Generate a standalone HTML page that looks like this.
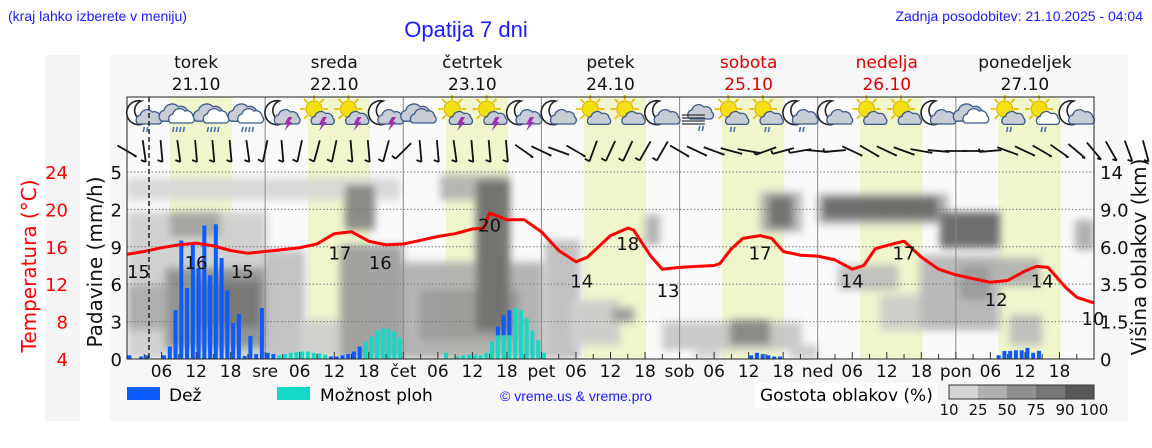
<!DOCTYPE html>
<html><head><meta charset="utf-8">
<style>
body{margin:0;background:#fff;width:1152px;height:443px;overflow:hidden;font-family:"Liberation Sans","DejaVu Sans",sans-serif}
svg text{font-family:"DejaVu Sans","Liberation Sans",sans-serif}
</style></head>
<body>
<svg id="chart" width="1152" height="443" viewBox="0 0 1152 443" xmlns="http://www.w3.org/2000/svg">
<defs>
<filter id="blur" filterUnits="userSpaceOnUse" x="100" y="150" width="1020" height="230"><feGaussianBlur stdDeviation="4"/></filter>
<clipPath id="plotclip"><rect x="127" y="165" width="967" height="194"/></clipPath>
</defs>
<rect x="45" y="55" width="35" height="366" fill="#f5f5f5"/>
<rect x="110" y="55" width="1018" height="366" fill="#f7f7f7"/>
<rect x="127" y="97" width="967" height="262" fill="#fafafa"/>
<text x="8" y="21" font-size="14" fill="#1a1aff" style="font-family:'Liberation Sans',sans-serif">(kraj lahko izberete v meniju)</text>
<text x="466" y="37" font-size="22" fill="#1a1aff" text-anchor="middle" style="font-family:'Liberation Sans',sans-serif">Opatija 7 dni</text>
<text x="1143" y="21" font-size="14" fill="#1a1aff" text-anchor="end" style="font-family:'Liberation Sans',sans-serif">Zadnja posodobitev: 21.10.2025 - 04:04</text>
<g id="daylight"></g>
<g clip-path="url(#plotclip)">
<g id="clouds" filter="url(#blur)" opacity="0.9">
<rect x="127" y="178" width="273" height="22" fill="#d6d6d6"/>
<rect x="127" y="212" width="140" height="147" fill="#cdcdcd"/>
<rect x="170" y="212" width="50" height="25" fill="#9e9e9e"/>
<rect x="165" y="268" width="100" height="80" fill="#8a8a8a"/>
<rect x="195" y="282" width="65" height="45" fill="#6a6a6a"/>
<rect x="127" y="285" width="40" height="45" fill="#a6a6a6"/>
<rect x="265" y="250" width="40" height="109" fill="#bebebe"/>
<rect x="300" y="320" width="40" height="39" fill="#cecece"/>
<rect x="340" y="245" width="63" height="114" fill="#9a9a9a"/>
<rect x="345" y="185" width="30" height="45" fill="#808080"/>
<rect x="403" y="262" width="140" height="97" fill="#adadad"/>
<rect x="420" y="290" width="100" height="50" fill="#939393"/>
<rect x="440" y="175" width="70" height="25" fill="#b0b0b0"/>
<rect x="476" y="180" width="34" height="150" fill="#666"/>
<rect x="545" y="240" width="35" height="119" fill="#bbbbbb"/>
<rect x="570" y="300" width="50" height="45" fill="#cacaca"/>
<rect x="612" y="308" width="22" height="14" fill="#959595"/>
<rect x="645" y="215" width="15" height="30" fill="#ababab"/>
<rect x="662" y="322" width="140" height="28" fill="#c4c4c4"/>
<rect x="730" y="320" width="40" height="25" fill="#808080"/>
<rect x="760" y="192" width="42" height="40" fill="#b0b0b0"/>
<rect x="768" y="196" width="25" height="32" fill="#666"/>
<rect x="695" y="347" width="25" height="12" fill="#cfcfcf"/>
<rect x="790" y="345" width="28" height="14" fill="#c8c8c8"/>
<rect x="818" y="194" width="130" height="30" fill="#a8a8a8"/>
<rect x="823" y="197" width="115" height="22" fill="#5e5e5e"/>
<rect x="838" y="265" width="60" height="25" fill="#bcbcbc"/>
<rect x="880" y="295" width="80" height="35" fill="#cbcbcb"/>
<rect x="940" y="212" width="60" height="36" fill="#5e5e5e"/>
<rect x="920" y="255" width="80" height="75" fill="#b2b2b2"/>
<rect x="960" y="265" width="30" height="35" fill="#939393"/>
<rect x="990" y="258" width="50" height="28" fill="#aeaeae"/>
<rect x="1010" y="315" width="32" height="30" fill="#bababa"/>
<rect x="1075" y="220" width="19" height="30" fill="#a8a8a8"/>
</g>
</g>
<g id="grid"></g>
<g id="bars"></g>
<g id="templine"></g>
<g id="icons"></g>
<g id="wind"></g>
<g id="axes"></g>
<rect x="127" y="97" width="967" height="262" fill="none" stroke="#222" stroke-width="1"/>
<line x1="149" y1="97" x2="149" y2="359" stroke="#222" stroke-width="1.5" stroke-dasharray="5,3"/>
<g>
<rect x="127" y="387" width="33" height="13" fill="#0a5cff"/>
<text x="169" y="401" font-size="17">Dež</text>
<rect x="277" y="387" width="33" height="13" fill="#14d9c8"/>
<text x="320" y="401" font-size="17">Možnost ploh</text>
<text x="500" y="401" font-size="14" fill="#1a1aff" style="font-family:'Liberation Sans',sans-serif">© vreme.us &amp; vreme.pro</text>
<rect x="755" y="383" width="182" height="25" fill="#fff"/>
<text x="760" y="401" font-size="17">Gostota oblakov (%)</text>
<g id="colorbar"></g>
</g>
</svg>
<script>
// ---- data ----
const dayNames=["torek","sreda","četrtek","petek","sobota","nedelja","ponedeljek"];
const dayDates=["21.10","22.10","23.10","24.10","25.10","26.10","27.10"];
const dayAbbr=["","sre","čet","pet","sob","ned","pon"];
const tempHours=[0,3,6,9,12,15,18,21,24,27,30,33,36,39,42,45,48,51,54,57,60,62,63,66,69,72,75,78,80,84,87,88,91,93,96,99,102,103,105,107,110,112,114,117,120,123,126,128,130,133,135,138,141,144,147,150,153,156,158,160,163,165,168];
const tempValues=[15.2,15.5,15.9,16.2,16.4,16.1,15.6,15.3,15.5,15.7,15.9,16.3,17.4,17.6,16.6,16.2,16.3,16.7,17.1,17.4,17.9,18.0,19.6,18.9,18.9,17.6,15.6,14.4,14.9,17.2,18.0,17.8,15.0,13.6,13.8,13.9,14.0,14.2,15.8,16.9,17.2,16.9,15.5,15.1,15.0,14.6,13.6,14.0,15.8,16.3,16.6,14.9,13.6,13.0,12.6,12.2,12.4,13.4,13.9,13.8,11.7,10.6,10.0];
const tempLabelHours=[2,12,20,37,44,63,79,87,94,110,126,135,151,159,168];
const tempLabelValues=[15,16,15,17,16,20,14,18,13,17,14,17,12,14,10];
const rainHours=[0,2,3,6,7,8,9,10,11,12,13,14,15,16,17,18,19,20,21,22,23,24,25,35,36,37,38,39,40,64,65,66,108,109,110,111,112,113,151,152,153,154,155,156,157,158];
const rainValues=[0.3,0.2,0.3,0.3,1.0,3.9,9.5,5.7,9.2,7.3,10.7,6.7,10.8,8.1,5.5,2.9,3.6,0.25,1.85,0.4,4.1,0.5,0.4,0.2,0.2,0.3,0.4,0.6,1.0,0.7,1.6,2.0,0.3,0.5,0.4,0.3,0.2,0.2,0.3,0.65,0.65,0.7,0.7,0.9,0.5,0.65];
const showerHours=[26,27,28,29,30,31,32,33,34,41,42,43,44,45,46,47,55,57,58,59,60,61,62,63,64,65,66,67,68,69,70,71,72];
const showerValues=[0.3,0.4,0.5,0.55,0.6,0.6,0.5,0.45,0.35,1.4,1.8,2.3,2.5,2.4,2.2,1.7,0.5,0.2,0.3,0.35,0.35,0.3,0.5,1.4,1.9,1.9,1.9,4.1,3.9,3.3,2.3,1.5,0.5];
const precipTicks=[0,3,6,9,12,15];
const precipTickLabels=["0","3","6","9","2","5"];
const tempTicks=[4,8,12,16,20,24];
const cloudTickLabels=["14","9.0","6.0","3.5","1.5","0"];
const iconTypes=["moonrain","rain","rain","rain","moonstorm","sunstorm","sunstorm","moonstorm","cloud","sunstorm","sunstorm","moonstorm","mooncloud","suncloud","suncloud","mooncloud","fog","sunrain","sunrain","moonrain","mooncloud","suncloud","suncloud","mooncloud","cloudw","sunrain","sunrain2","mooncloud"];
const windAngles=[60,8,5,8,5,5,5,8,-12,5,-12,-15,-12,5,5,-15,-45,5,5,8,5,5,5,55,65,70,60,-20,-25,-25,-30,-30,60,65,70,75,80,-70,-75,-80,85,-85,65,60,65,70,80,85,90,90,-85,70,65,60,55,50,40,30,20,15];
const bgHexes=["#d3d3d3","#b0b0b0","#909090","#757575","#585858"];
const cbLabels=["10","25","50","75","90","100"];
// ---- scales ----
const X0=127,PW=967,YB=359;
function xH(h){return X0+h*PW/168;}
function yT(t){return YB-(t-4)*9.35;}
function yP(v){return YB-v*12.47;}
const NS="http://www.w3.org/2000/svg";
function mk(tag,attrs,parent){const e=document.createElementNS(NS,tag);for(const k in attrs)e.setAttribute(k,attrs[k]);parent.appendChild(e);return e;}
// daylight
const dl=document.getElementById('daylight');
for(let d=0;d<7;d++){
  const r=mk('rect',{x:xH(24*d+7.4),y:97,width:xH(24*d+18.2)-xH(24*d+7.4),height:262,fill:'#f0f5cc'},dl);
  
  
}
// grid
const gr=document.getElementById('grid');
for(let i=1;i<precipTicks.length;i++){
  const l=mk('line',{x1:X0,x2:X0+PW,y1:yP(precipTicks[i]),y2:yP(precipTicks[i]),stroke:'#777','stroke-width':1,'stroke-dasharray':'1.5,2'},gr);
  
  
}
for(let d=1;d<7;d++){
  const l=mk('line',{x1:xH(24*d),x2:xH(24*d),y1:97,y2:359,stroke:'#888','stroke-width':1},gr);
  
  
}
// bars
const bg=document.getElementById('bars');
const showerMap={};
showerHours.forEach((h,i)=>{showerMap[h]=showerValues[i];
  const r=mk('rect',{x:xH(h)+0.5,y:yP(showerValues[i]),width:4,height:YB-yP(showerValues[i]),fill:'#14d9c8'},bg);
  
  
});
rainHours.forEach((h,i)=>{const base=showerMap[h]||0;
  const r=mk('rect',{x:xH(h)+0.5,y:yP(base+rainValues[i]),width:4,height:yP(base)-yP(base+rainValues[i]),fill:'#0a5cff'},bg);
  
  
});
// temperature
const tl=document.getElementById('templine');
let pts=tempHours.map((h,i)=>xH(h).toFixed(1)+','+yT(tempValues[i]).toFixed(1)).join(' ');
const pl=mk('polyline',{points:pts,fill:'none',stroke:'#ff0000','stroke-width':3,'stroke-linejoin':'round'},tl);


tempLabelHours.forEach((h,i)=>{
  const tx=mk('text',{x:xH(h)+(h===168?-1:0),y:yT(tempLabelValues[i])+22,'font-size':18,'text-anchor':'middle',fill:'#111'},tl);
  tx.textContent=tempLabelValues[i];
  
  
});
// icons
const ic=document.getElementById('icons');
function cloud(g,cx,cy,s,fill){
  mk('path',{d:`M${cx-11*s},${cy+6*s} a${5*s} ${5*s} 0 0 1 ${2*s},${-9*s} a${7*s} ${7*s} 0 0 1 ${12*s},${-3*s} a${6*s} ${6*s} 0 0 1 ${8*s},${5*s} a${4*s} ${4*s} 0 0 1 ${-1*s},${7*s} z`,fill:fill,stroke:'#3a5a8a','stroke-width':1.3},g);
}
function sun(g,cx,cy){
  for(let a=0;a<360;a+=45){const r=a*Math.PI/180;mk('line',{x1:cx+Math.cos(r)*9,y1:cy+Math.sin(r)*9,x2:cx+Math.cos(r)*14,y2:cy+Math.sin(r)*14,stroke:'#e8c000','stroke-width':1.8},g);}
  mk('circle',{cx:cx,cy:cy,r:8,fill:'#f4e010',stroke:'#d8b000'},g);
}
function moon(g,cx,cy){mk('path',{d:`M${cx+3},${cy-12} a12 12 0 1 0 7,19 a10 10 0 0 1 -7,-19 z`,fill:'#fff',stroke:'#222','stroke-width':1.6},g);}
function bolt(g,cx,cy){mk('path',{d:`M${cx+2},${cy} l-4,7 h3 l-3,7 l8,-9 h-3 l3,-5 z`,fill:'#a030b0'},g);}
function drops(g,cx,cy,n){for(let i=0;i<n;i++)mk('line',{x1:cx-5+i*3.5,y1:cy,x2:cx-6+i*3.5,y2:cy+5,stroke:'#4a70b0','stroke-width':1.6},g);}
iconTypes.forEach((t,i)=>{
  const cx=xH(i*6+3),cy=113;
  const g=mk('g',{},ic);
  
  
  if(t.startsWith('moon')){moon(g,cx-6,cy);cloud(g,cx+5,cy+5,1.0,'#c8ccd4');}
  if(t.startsWith('sun')){sun(g,cx-3,cy-4);cloud(g,cx+6,cy+6,0.9,t==='sunrain2'?'#fff':'#c8ccd4');}
  if(t==='rain'){cloud(g,cx-4,cy+1,1.2,'#c8ccd4');cloud(g,cx+3,cy+4,1.0,'#fff');drops(g,cx,cy+14,4);}
  if(t==='cloud'||t==='cloudw'){cloud(g,cx-4,cy+1,1.2,'#c8ccd4');cloud(g,cx+3,cy+4,1.0,t==='cloudw'?'#fff':'#c8ccd4');}
  if(t==='fog'){cloud(g,cx+4,cy,1.0,'#c8ccd4');for(let k=0;k<4;k++)mk('line',{x1:cx-15,x2:cx+8,y1:cy+2+k*3,y2:cy+2+k*3,stroke:'#334','stroke-width':1.3},g);drops(g,cx+8,cy+13,2);}
  if(t.includes('storm'))bolt(g,cx+4,cy+4);
  if(t.includes('rain')&&t!=='rain')drops(g,cx+5,cy+14,2);
});
// wind barbs
const wd=document.getElementById('wind');
windAngles.forEach((a,i)=>{
  const cx=xH(i*3),cy=151,r=a*Math.PI/180,L=11;
  const dx=Math.sin(r)*L,dy=Math.cos(r)*L;
  const g=mk('g',{},wd);
  
  
  mk('line',{x1:cx-dx,y1:cy-dy,x2:cx+dx,y2:cy+dy,stroke:'#111','stroke-width':1.8},g);
  mk('line',{x1:cx+dx,y1:cy+dy,x2:cx+dx-Math.cos(r)*5,y2:cy+dy+Math.sin(r)*5*0.3-2,stroke:'#111','stroke-width':1.8},g);
});
// axes
const ax=document.getElementById('axes');
for(let d=0;d<7;d++){
  const c=(d>=4&&d<=5)?'#e00000':'#111';
  const n=mk('text',{x:xH(24*d+12),y:68,'font-size':17,'text-anchor':'middle',fill:c},ax);n.textContent=dayNames[d];
  
  
  const dt=mk('text',{x:xH(24*d+12),y:90,'font-size':17,'text-anchor':'middle',fill:c},ax);dt.textContent=dayDates[d];
  
  
}
for(let h=3;h<168;h+=3){
  const tk=mk('line',{x1:xH(h),x2:xH(h),y1:YB,y2:YB-(h%6?5:7),stroke:'#333'},ax);
  
  
  if(h%6===0){const hr=h%24;const lab=hr===0?dayAbbr[h/24]:(hr<10?'0'+hr:''+hr);
    const t=mk('text',{x:xH(h),y:377,'font-size':17,'text-anchor':'middle',fill:'#111'},ax);t.textContent=lab;
    
    }
}
precipTicks.forEach((v,i)=>{
  const t=mk('text',{x:122,y:yP(v)+7,'font-size':18,'text-anchor':'end',fill:'#111'},ax);t.textContent=precipTickLabels[i];
  
  
});
tempTicks.forEach(v=>{
  const t=mk('text',{x:68,y:yT(v)+7,'font-size':18,'text-anchor':'end',fill:'#ff0000'},ax);t.textContent=v;
  
  
});
cloudTickLabels.forEach((v,i)=>{
  const t=mk('text',{x:1100,y:yP(precipTicks[5-i])+7,'font-size':18,fill:'#111'},ax);t.textContent=v;
  
  
});
const t1=mk('text',{x:0,y:0,'font-size':20,'text-anchor':'middle',fill:'#ff0000',transform:'translate(36,266) rotate(-90)'},ax);t1.textContent='Temperatura (°C)';


const t2=mk('text',{x:0,y:0,'font-size':20,'text-anchor':'middle',fill:'#111',transform:'translate(102,262) rotate(-90)'},ax);t2.textContent='Padavine (mm/h)';


const t3=mk('text',{x:0,y:0,'font-size':20,'text-anchor':'middle',fill:'#111',transform:'translate(1146,257) rotate(-90)'},ax);t3.textContent='Višina oblakov (km)';


// colorbar
const cb=document.getElementById('colorbar');
bgHexes.forEach((c,i)=>{
  const r=mk('rect',{x:949+i*29,y:385,width:29,height:14,fill:c},cb);
  
  
});
mk('rect',{x:949,y:385,width:145,height:14,fill:'none',stroke:'#333'},cb);
cbLabels.forEach((l,i)=>{
  const t=mk('text',{x:949+i*29,y:415,'font-size':15,'text-anchor':'middle',fill:'#111'},cb);t.textContent=l;
  
  
});
</script>
</body></html>
